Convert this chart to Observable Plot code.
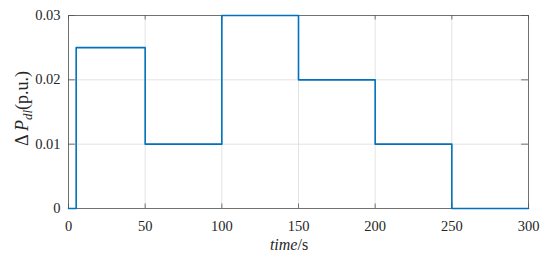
<!DOCTYPE html>
<html><head><meta charset="utf-8">
<script src="https://cdn.jsdelivr.net/npm/d3@7"></script>
<script src="https://cdn.jsdelivr.net/npm/@observablehq/plot@0.6"></script>
<style>body{margin:0;background:#fff;}</style>
</head><body><div id="chart"></div>
<script>
const times = [0, 5, 50, 100, 150, 200, 250, 300];
const values = [0, 0.025, 0.01, 0.03, 0.02, 0.01, 0, 0];
const xTicks = [0, 50, 100, 150, 200, 250, 300];
const yTicks = [0, 0.01, 0.02, 0.03];
const yTickLabels = ["0", "0.01", "0.02", "0.03"];
const data = times.map((t, i) => ({t, v: values[i]}));

const FONT = "Liberation Serif";
const W = 550, H = 259;
const plot = Plot.plot({
  width: W, height: H,
  marginLeft: 68, marginRight: 22, marginTop: 15, marginBottom: 51,
  style: {fontFamily: FONT, fontSize: "14.5px", color: "#262626", background: "#fff"},
  x: {domain: [0, 300], ticks: xTicks},
  y: {domain: [0, 0.03], ticks: yTicks},
  marks: [
    Plot.gridX(xTicks, {stroke: "#dcdcdc", strokeOpacity: 1, strokeWidth: 0.8}),
    Plot.gridY(yTicks, {stroke: "#dcdcdc", strokeOpacity: 1, strokeWidth: 0.8}),
    Plot.axisX(xTicks, {tickSize: 0, tickPadding: 12, label: null, fontFamily: FONT, fontSize: 14.5, fill: "#262626"}),
    Plot.axisY(yTicks, {tickSize: 0, tickPadding: 8, label: null, fontFamily: FONT, fontSize: 14.5, fill: "#262626", tickFormat: (d) => yTickLabels[yTicks.indexOf(d)]}),
    Plot.ruleX(xTicks, {y1: 0, y2: 0.0007, stroke: "#555", strokeWidth: 0.8}),
    Plot.ruleX(xTicks, {y1: 0.03, y2: 0.0293, stroke: "#555", strokeWidth: 0.8}),
    Plot.ruleY(yTicks, {x1: 0, x2: 4.5, stroke: "#555", strokeWidth: 0.8}),
    Plot.ruleY(yTicks, {x1: 300, x2: 295.5, stroke: "#555", strokeWidth: 0.8}),
    Plot.frame({stroke: "#555", strokeWidth: 0.8}),
    Plot.line(data, {x: "t", y: "v", curve: "step-after", stroke: "#0072BD", strokeWidth: 1.6})
  ]
});
document.getElementById("chart").appendChild(plot);

const svg = d3.select(plot);
const xs = plot.scale("x"), ys = plot.scale("y");
// x label
const xl = svg.append("text")
  .attr("x", (xs.apply(0) + xs.apply(300)) / 2 - 9)
  .attr("y", 250)
  .attr("text-anchor", "middle")
  .attr("font-family", FONT)
  .attr("font-size", 16)
  .attr("fill", "#262626");
xl.append("tspan").attr("font-style", "italic").text("time");
xl.append("tspan").text("/s");
// y label
const cy = (ys.apply(0) + ys.apply(0.03)) / 2 - 3;
const yl = svg.append("text")
  .attr("transform", `translate(28,${cy}) rotate(-90)`)
  .attr("text-anchor", "middle")
  .attr("font-family", FONT)
  .attr("font-size", 18)
  .attr("fill", "#262626");
yl.append("tspan").text("Δ ");
yl.append("tspan").attr("font-style", "italic").text("P");
yl.append("tspan").attr("font-style", "italic").attr("font-size", 13).attr("dy", 4).text("dl");
yl.append("tspan").attr("dy", -4).text("(p.u.)");
</script></body></html>
